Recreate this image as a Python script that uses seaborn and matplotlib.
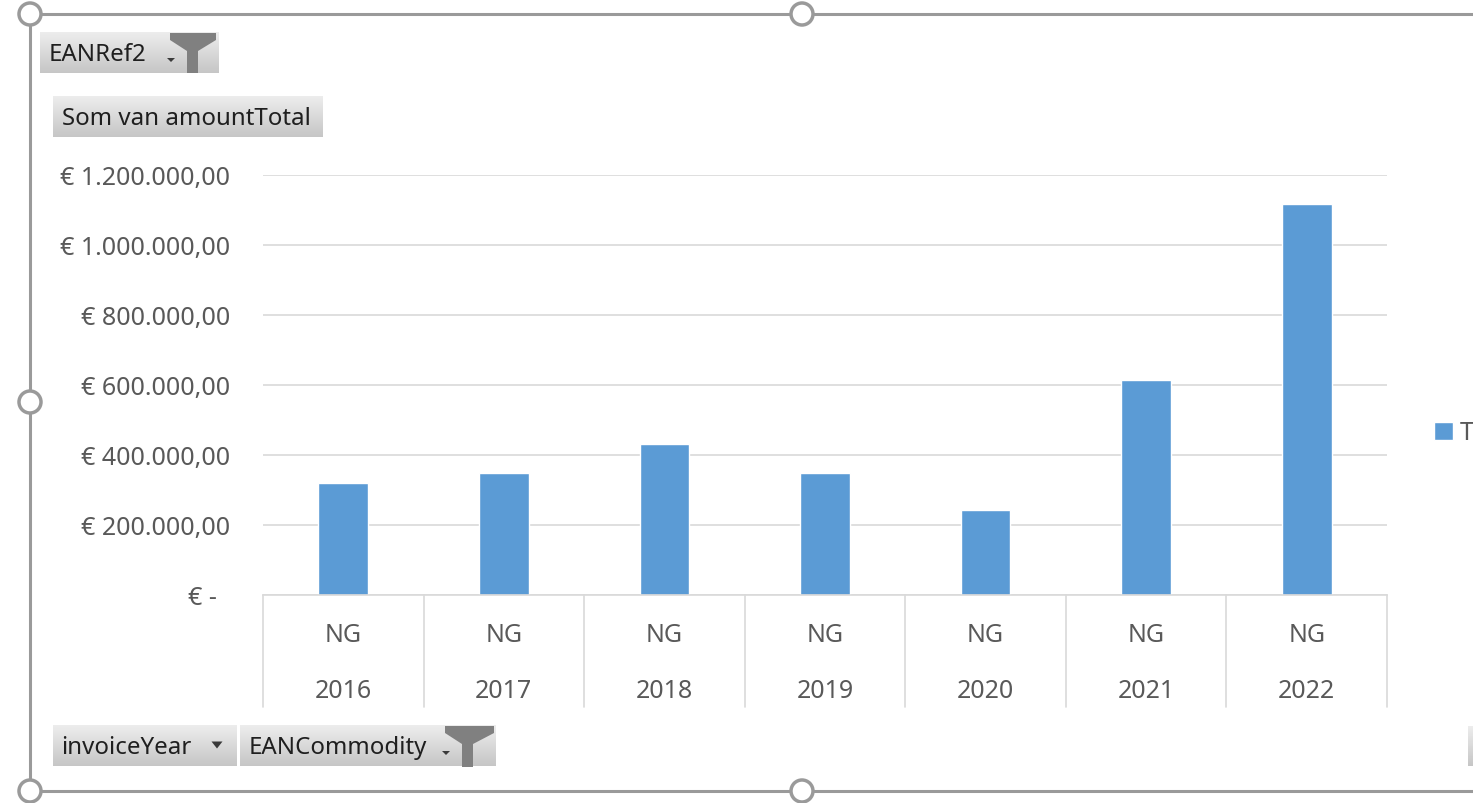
import numpy as np
import pandas as pd
import matplotlib
matplotlib.use("Agg")
import matplotlib.pyplot as plt
import seaborn as sns
from matplotlib.patches import Circle, Polygon
from matplotlib.lines import Line2D
from matplotlib.colors import LinearSegmentedColormap
from matplotlib.transforms import IdentityTransform, blended_transform_factory

# ---- data ----
years = ["2016", "2017", "2018", "2019", "2020", "2021", "2022"]
commodity = ["NG", "NG", "NG", "NG", "NG", "NG", "NG"]
amounts = [320000, 348000, 431000, 348000, 243000, 614000, 1117000]
ytick_values = [0, 200000, 400000, 600000, 800000, 1000000, 1200000]
ytick_labels = ["€ -", "€ 200.000,00", "€ 400.000,00", "€ 600.000,00",
                "€ 800.000,00", "€ 1.000.000,00", "€ 1.200.000,00"]
series_name = "T"

W, H = 1473, 804
BAR = "#5B9BD5"
TXT = "#595959"
GRID = "#D9D9D9"
FRAME = "#9A9A9A"
FONT = "Noto Sans"
FS = 18
BFS = 17.3

sns.set_theme(style="white")
plt.rcParams["font.family"] = [FONT, "DejaVu Sans"]

fig = plt.figure(figsize=(W / 100, H / 100), dpi=100)
fig.patch.set_facecolor("white")

def fx(x):
    return x / W

def fy(y):
    return 1 - y / H

# main axes
ax = fig.add_axes([fx(263), fy(596), fx(1387) - fx(263), fy(176) - fy(596)])
df = pd.DataFrame({"year": years, "amount": amounts})
sns.barplot(data=df, x="year", y="amount", color=BAR, saturation=1,
            width=0.31, ax=ax, label=series_name)
if ax.get_legend() is not None:
    ax.get_legend().remove()
ax.set_xlim(-0.5, len(years) - 0.5)
ax.set_ylim(0, 1200000)
ax.set_yticks(ytick_values)
ax.yaxis.grid(True, color=GRID, linewidth=1.2)
ax.set_axisbelow(True)
ax.tick_params(left=False, bottom=False, labelleft=False, labelbottom=False)
ax.set_xlabel("")
ax.set_ylabel("")
for s in ["top", "right", "left"]:
    ax.spines[s].set_visible(False)
ax.spines["bottom"].set_color(GRID)
ax.spines["bottom"].set_linewidth(1.2)

# y tick labels
tr_y = blended_transform_factory(ax.transAxes, ax.transData)
for v, lab in zip(ytick_values, ytick_labels):
    xoff = -0.029 if v != 0 else -0.041
    ax.text(xoff, v - 7000, lab, transform=tr_y, ha="right", va="center",
            fontsize=FS, color=TXT)

# multi-level category axis
tr_x = blended_transform_factory(ax.transData, ax.transAxes)
depth = (708 - 596) / (596 - 176)
for i in range(len(years) + 1):
    ax.add_line(Line2D([i - 0.5, i - 0.5], [0, -depth], transform=tr_x,
                       color=GRID, linewidth=1.2, clip_on=False))
for i, (c, yv) in enumerate(zip(commodity, years)):
    ax.text(i, -(636 - 596) / 420, c, transform=tr_x, ha="center", va="center",
            fontsize=FS, color=TXT)
    ax.text(i, -(692 - 596) / 420, yv, transform=tr_x, ha="center", va="center",
            fontsize=FS, color=TXT)

# legend (only its start is visible at the right edge, like the reference)
h, l = ax.get_legend_handles_labels()
fig.legend(h, l, loc="center left", bbox_to_anchor=(fx(1434), fy(434)),
           frameon=False, fontsize=FS, handlelength=0.75, handleheight=0.75,
           handletextpad=0.3, borderpad=0, borderaxespad=0, labelcolor=TXT)

# ---- pivot buttons ----
grad_cmap = LinearSegmentedColormap.from_list("btn", ["#EDEDED", "#C6C6C6"])

def button(x0, y0, x1, y1, text=None, tx=None):
    b = fig.add_axes([fx(x0), fy(y1), fx(x1) - fx(x0), fy(y0) - fy(y1)])
    b.imshow(np.linspace(0, 1, 64)[:, None], aspect="auto", cmap=grad_cmap,
             extent=[0, 1, 0, 1])
    b.set_axis_off()
    if text:
        b.text((tx - x0) / (x1 - x0), 0.47, text, ha="left", va="center",
               fontsize=BFS, color="#1F1F1F", transform=b.transAxes)
    return b

def funnel(x0, x1, ytop, yneck, ybot, sx0, sx1):
    pts = [(x0, ytop), (x1, ytop), (x1, ytop + 7), (sx1, yneck), (sx1, ybot),
           (sx0, ybot), (sx0, yneck), (x0, ytop + 7)]
    fig.add_artist(Polygon([(p[0], H - p[1]) for p in pts], closed=True,
                           facecolor="#808080", edgecolor="none",
                           transform=IdentityTransform()))

def tri(xc, yc, w, h, col="#3A3A3A"):
    pts = [(xc - w / 2, yc - h / 2), (xc + w / 2, yc - h / 2), (xc, yc + h / 2)]
    fig.add_artist(Polygon([(p[0], H - p[1]) for p in pts], closed=True,
                           facecolor=col, edgecolor="none",
                           transform=IdentityTransform()))

button(40, 33, 219, 74, "EANRef2", 49)
funnel(170, 216, 34, 52, 74, 187, 198)
tri(171, 61, 8, 4)

button(53, 97, 323, 138, "Som van amountTotal", 62)

button(53, 726, 237, 767, "invoiceYear", 61)
tri(217, 746, 11, 7)
button(240, 726, 496, 767, "EANCommodity", 249)
funnel(445, 494, 727, 745, 768, 462, 473)
tri(446, 754, 8, 4)
button(1468, 727, 1478, 767)

# ---- selection frame & handles ----
def line(xs, ys):
    fig.add_artist(Line2D(xs, [H - y for y in ys], color=FRAME, linewidth=2.2,
                          transform=IdentityTransform()))

line([30, W], [15, 15])
line([30, W], [792, 792])
line([30, 30], [15, 792])
for (cx, cy) in [(30, 15), (802, 15), (30, 403), (30, 792), (802, 792)]:
    fig.add_artist(Circle((cx, H - cy), 11, facecolor="white", edgecolor=FRAME,
                          linewidth=2.5, transform=IdentityTransform(),
                          zorder=10))

fig.savefig("out.png", dpi=100, facecolor="white")
